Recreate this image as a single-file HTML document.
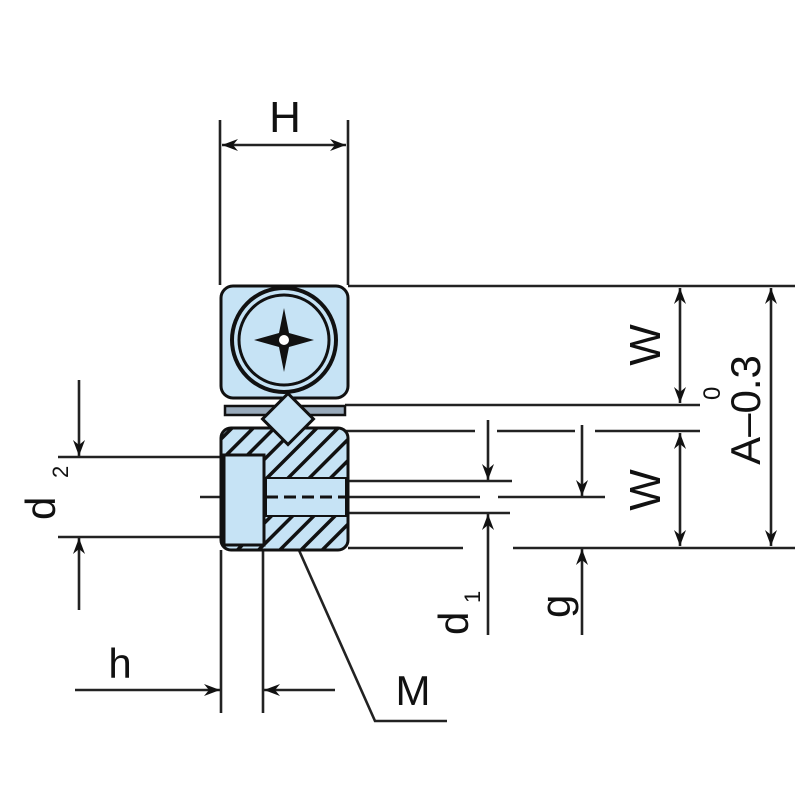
<!DOCTYPE html>
<html><head><style>body{margin:0;background:#fff}svg{display:block}</style></head>
<body>
<svg width="800" height="800" viewBox="0 0 800 800" xmlns="http://www.w3.org/2000/svg">
<defs>
<marker id="a" viewBox="0 0 16 12" refX="16" refY="6" markerWidth="16" markerHeight="12" markerUnits="userSpaceOnUse" orient="auto-start-reverse">
<path d="M0,0 L16,6 L0,12 L5,6 Z" fill="#111"/></marker>
<pattern id="h" width="15" height="15" patternUnits="userSpaceOnUse" patternTransform="rotate(-45)">
<rect width="15" height="15" fill="#c6e3f5"/><rect width="15" height="3.5" fill="#111"/></pattern>
</defs>
<g stroke="#222" stroke-width="2.6" fill="none">
<line x1="220" y1="120" x2="220" y2="285"/><line x1="348" y1="120" x2="348" y2="285"/>
<line x1="222" y1="145" x2="346" y2="145" marker-start="url(#a)" marker-end="url(#a)"/>
<line x1="348" y1="286" x2="795" y2="286"/>
<line x1="345" y1="405" x2="700" y2="405"/>
<line x1="345" y1="431" x2="475" y2="431"/><line x1="497" y1="431" x2="575" y2="431"/><line x1="595" y1="431" x2="700" y2="431"/>
<line x1="265" y1="481" x2="512" y2="481"/>
<line x1="200" y1="497" x2="480" y2="497"/><line x1="498" y1="497" x2="605" y2="497"/>
<line x1="265" y1="513" x2="510" y2="513"/>
<line x1="348" y1="548" x2="463" y2="548"/><line x1="513" y1="548" x2="795" y2="548"/>
<line x1="680" y1="288" x2="680" y2="403" marker-start="url(#a)" marker-end="url(#a)"/>
<line x1="680" y1="433" x2="680" y2="546" marker-start="url(#a)" marker-end="url(#a)"/>
<line x1="771" y1="288" x2="771" y2="546" marker-start="url(#a)" marker-end="url(#a)"/>
<line x1="488" y1="420" x2="488" y2="480" marker-end="url(#a)"/>
<line x1="488" y1="635" x2="488" y2="514" marker-end="url(#a)"/>
<line x1="582" y1="425" x2="582" y2="496" marker-end="url(#a)"/>
<line x1="582" y1="635" x2="582" y2="549" marker-end="url(#a)"/>
<line x1="58" y1="457" x2="220" y2="457"/><line x1="58" y1="537" x2="220" y2="537"/>
<line x1="79" y1="380" x2="79" y2="456" marker-end="url(#a)"/>
<line x1="79" y1="610" x2="79" y2="538" marker-end="url(#a)"/>
<line x1="221" y1="550" x2="221" y2="713"/><line x1="263" y1="550" x2="263" y2="713"/>
<line x1="75" y1="690" x2="220" y2="690" marker-end="url(#a)"/>
<line x1="335" y1="690" x2="264" y2="690" marker-end="url(#a)"/>
<polyline points="290,530 375,721 447,721"/>
</g>
<g stroke="#111" stroke-width="3">
<rect x="221" y="286" width="127" height="112" rx="12" fill="#c6e3f5"/>
<circle cx="284" cy="340" r="52" fill="#c6e3f5" stroke-width="4"/>
<circle cx="284" cy="340" r="45" fill="#c6e3f5" stroke-width="3"/>
<rect x="225" y="406" width="120" height="9" fill="#9ab" stroke-width="2.5"/>
<rect x="221" y="428" width="127" height="122" rx="10" fill="url(#h)"/>
<rect x="266" y="478" width="80" height="38" fill="#c6e3f5" stroke-width="2"/>
<line x1="266" y1="497" x2="346" y2="497" stroke-dasharray="12 6"/>
<rect x="224" y="455" width="40" height="90" fill="#c6e3f5"/>
<rect x="270" y="401" width="36" height="36" transform="rotate(45 288 419)" fill="#c6e3f5" stroke-width="3"/>
</g>
<g fill="#111">
<path d="M284,308 L289,333 L314,340 L289,347 L284,372 L279,347 L254,340 L279,333 Z"/>
<circle cx="284" cy="340" r="5" fill="#fff"/>
</g>
<g font-family="Liberation Sans, sans-serif" fill="#111">
<text x="285" y="132" font-size="44" text-anchor="middle">H</text>
<text x="120" y="678" font-size="42" text-anchor="middle">h</text>
<text x="413" y="705" font-size="42" text-anchor="middle">M</text>
<text transform="translate(660,345) rotate(-90)" font-size="44" text-anchor="middle">W</text>
<text transform="translate(660,490) rotate(-90)" font-size="44" text-anchor="middle">W</text>
<text transform="translate(760,410) rotate(-90)" font-size="42" text-anchor="middle">A–0.3</text>
<text transform="translate(720,400) rotate(-90)" font-size="24">0</text>
<text transform="translate(55,520) rotate(-90)" font-size="42">d</text>
<text transform="translate(68,478) rotate(-90)" font-size="22">2</text>
<text transform="translate(468,635) rotate(-90)" font-size="42">d</text>
<text transform="translate(480,603) rotate(-90)" font-size="22">1</text>
<text transform="translate(570,618) rotate(-90)" font-size="42">g</text>
</g>
</svg>
</body></html>
